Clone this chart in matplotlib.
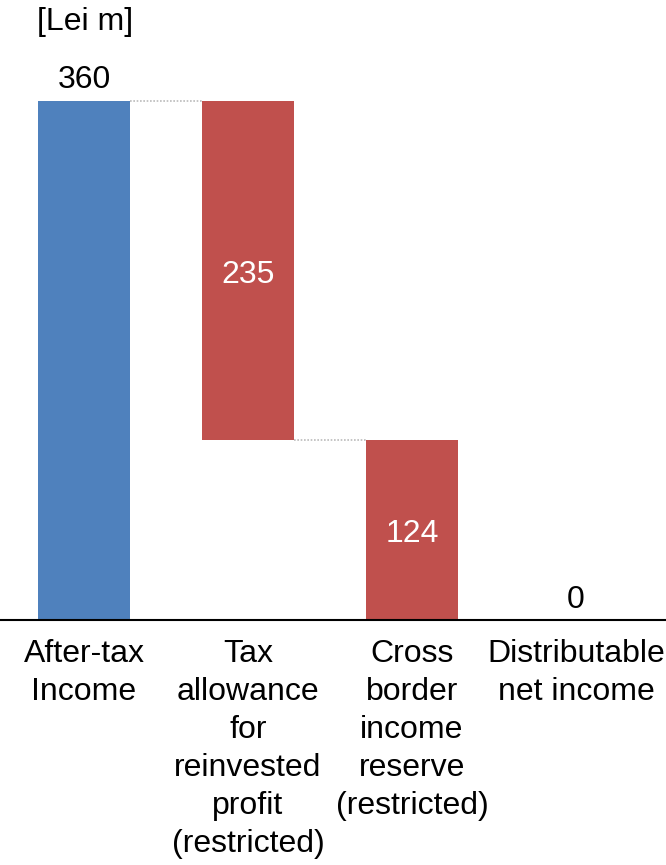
import matplotlib
matplotlib.use("Agg")
import matplotlib.pyplot as plt

categories = ["After-tax\nIncome",
              "Tax\nallowance\nfor\nreinvested\nprofit\n(restricted)",
              "Cross\nborder\nincome\nreserve\n(restricted)",
              "Distributable\nnet income"]
start_value = 360
deductions = [235, 124]
total_value = 0
unit_label = "[Lei m]"

blue = "#4F81BD"
red = "#C0504D"

plt.rcParams['font.family'] = ['Liberation Sans', 'DejaVu Sans']
FS = 23

W, H = 666, 865
fig = plt.figure(figsize=(W / 100, H / 100), dpi=100)

base_px = 620
top_px = 101
px_per_unit = (base_px - top_px) / start_value
ymax = 400
ax_bottom = (H - base_px) / H
ax_height = ymax * px_per_unit / H
ax = fig.add_axes([0, ax_bottom, 1, ax_height])

spacing = 164
c0 = 84
ax.set_xlim(-c0 / spacing, (W - c0) / spacing)
ax.set_ylim(0, ymax)
width = 92 / spacing

# bars
ax.bar(0, start_value, width=width, color=blue, zorder=2)
cum = start_value
for i, d in enumerate(deductions, start=1):
    ax.bar(i, d, bottom=cum - d, width=width, color=red, zorder=2)
    cum -= d
# connectors
conn = [start_value, start_value - deductions[0]]
for i, lev in enumerate(conn):
    ax.plot([i + width / 2, i + 1 - width / 2], [lev, lev], color="#BBBBBB",
            linestyle=(0, (1, 1)), linewidth=1.2, zorder=1)

# labels (offsets in points)
pt = 0.72
ax.annotate(str(start_value), (0, start_value), xytext=(0, 6 * pt), textcoords="offset points",
            ha="center", va="bottom", fontsize=FS, color="black")
c = start_value
for i, d in enumerate(deductions, start=1):
    ax.annotate(str(d), (i, c - d / 2), xytext=(0, -5 * pt), textcoords="offset points",
                ha="center", va="center", fontsize=FS, color="white")
    c -= d
ax.annotate(str(total_value), (3, 0), xytext=(0, 5 * pt), textcoords="offset points",
            ha="center", va="bottom", fontsize=FS, color="black")

fig.text(37 / W, 1 - 22 / H, unit_label, ha="left", va="center", fontsize=FS)

ax.set_xticks(range(len(categories)))
ax.set_xticklabels(categories, fontsize=FS, linespacing=1.34, va="top")
ax.tick_params(axis="x", length=0, pad=14)
ax.set_yticks([])
for s in ["top", "left", "right"]:
    ax.spines[s].set_visible(False)
ax.spines["bottom"].set_linewidth(1.5)
ax.spines["bottom"].set_color("black")

fig.savefig("out.png", dpi=100)
